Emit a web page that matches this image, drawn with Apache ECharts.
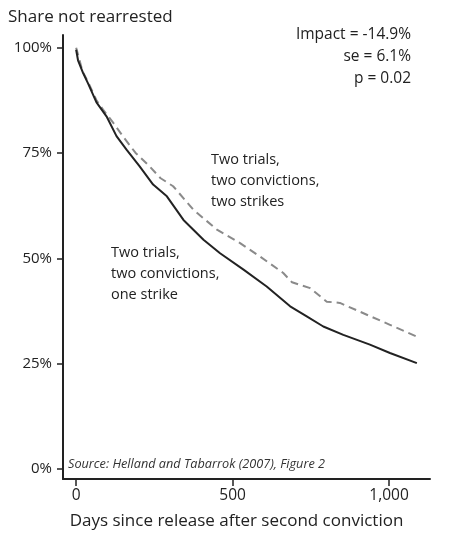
<!DOCTYPE html>
<html>
<head>
<meta charset="utf-8">
<script src="https://cdn.jsdelivr.net/npm/echarts@6/dist/echarts.min.js"></script>
<style>
html,body{margin:0;padding:0;background:#fff;}
#chart{width:449px;height:538px;}
</style>
</head>
<body>
<div id="chart"></div>
<script>
// Data
var oneStrikeDays   = [0, 6, 22, 38, 65, 97, 129, 161, 203, 246, 290, 343, 407, 460, 535, 609, 684, 737, 790, 854, 939, 1003, 1089];
var oneStrikeShare  = [99.5, 97, 94, 91.5, 87, 83.7, 79, 75.8, 71.8, 67.5, 64.7, 59.1, 54.4, 51.2, 47.3, 43.3, 38.6, 36.2, 33.8, 31.8, 29.5, 27.5, 25.1];
var twoStrikeDays   = [0, 20, 40, 65, 86, 120, 150, 190, 235, 270, 310, 375, 450, 524, 588, 662, 690, 748, 801, 843, 929, 1003, 1089];
var twoStrikeShare  = [100, 94.5, 91.5, 87.5, 85.3, 82, 78.9, 75, 71.8, 69, 67.1, 61.5, 56.8, 53.6, 50.4, 46.5, 44.3, 42.9, 39.7, 39.4, 36.6, 34.2, 31.4];
var yTicks = [0, 25, 50, 75, 100];
var xTicks = [0, 500, 1000];
var titleText = 'Share not rearrested';
var xAxisTitle = 'Days since release after second conviction';
var statsLines = ['Impact = -14.9%', 'se = 6.1%', 'p = 0.02'];
var twoStrikesLabel = ['Two trials,', 'two convictions,', 'two strikes'];
var oneStrikeLabel = ['Two trials,', 'two convictions,', 'one strike'];
var sourceText = 'Source: Helland and Tabarrok (2007), Figure 2';

function pairs(xs, ys){ return xs.map(function(x,i){ return [x, ys[i]]; }); }

var FONT = '"Open Sans", "Noto Sans", sans-serif';
var chart = echarts.init(document.getElementById('chart'), null, {renderer:'canvas'});

var graphics = [];
graphics.push({type:'text', x:8, y:17, style:{text:titleText, fill:'#222', font:'17px '+FONT, textVerticalAlign:'middle'}});
statsLines.forEach(function(t,i){
  graphics.push({type:'text', x:411, y:35+i*22, style:{text:t, fill:'#222', font:'15.5px '+FONT, textAlign:'right', textVerticalAlign:'middle'}});
});
twoStrikesLabel.forEach(function(t,i){
  graphics.push({type:'text', x:211, y:160+i*21, style:{text:t, fill:'#222', font:'14.5px '+FONT, textVerticalAlign:'middle'}});
});
oneStrikeLabel.forEach(function(t,i){
  graphics.push({type:'text', x:111, y:253+i*21, style:{text:t, fill:'#222', font:'14.5px '+FONT, textVerticalAlign:'middle'}});
});
graphics.push({type:'text', x:68, y:464, style:{text:sourceText, fill:'#333', font:'italic 12.7px '+FONT, textVerticalAlign:'middle'}});

chart.setOption({
  animation:false,
  backgroundColor:'#fff',
  grid:{left:63, right:19, top:35, bottom:59, containLabel:false},
  xAxis:{
    type:'value', min:-42, max:1131,
    name:xAxisTitle, nameLocation:'middle', nameGap:34,
    nameTextStyle:{fontFamily:FONT, fontSize:17, color:'#222', padding:[0,20,0,0]},
    axisLine:{show:true, onZero:false, lineStyle:{color:'#222', width:2}},
    axisTick:{show:true, customValues:xTicks, length:7, lineStyle:{color:'#222', width:1.5}},
    axisLabel:{customValues:xTicks, margin:9, fontFamily:FONT, fontSize:15.5, color:'#222',
      formatter:function(v){ return v>=1000 ? (Math.floor(v/1000)+','+String(v%1000).padStart(3,'0')) : String(v); }},
    splitLine:{show:false}
  },
  yAxis:{
    type:'value', min:-2.4, max:103,
    axisLine:{show:true, onZero:false, lineStyle:{color:'#222', width:2}},
    axisTick:{show:true, customValues:yTicks, length:6, lineStyle:{color:'#222', width:1.5}},
    axisLabel:{customValues:yTicks, margin:11, fontFamily:FONT, fontSize:15, color:'#222',
      formatter:function(v){ return v+'%'; }},
    splitLine:{show:false}
  },
  series:[
    {type:'line', name:'two strikes', data:pairs(twoStrikeDays, twoStrikeShare), showSymbol:false, symbol:'none',
      lineStyle:{color:'#8a8a8a', width:2, type:[8,5]}, z:2},
    {type:'line', name:'one strike', data:pairs(oneStrikeDays, oneStrikeShare), showSymbol:false, symbol:'none',
      lineStyle:{color:'#222', width:2}, z:3}
  ],
  graphic: graphics
});
</script>
</body>
</html>
